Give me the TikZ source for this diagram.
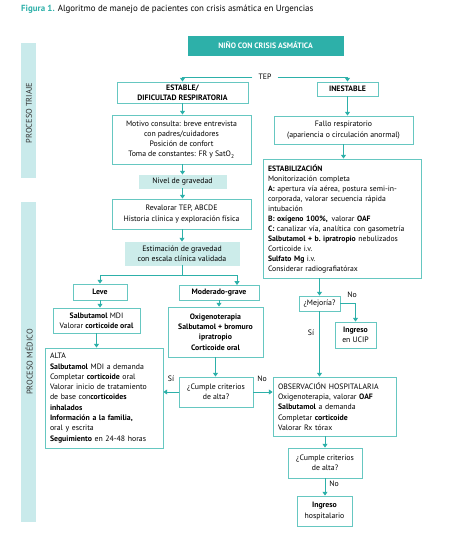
\documentclass[tikz,border=0pt]{standalone}
\usepackage{fontspec}
\setmainfont{PT Sans}
\usetikzlibrary{arrows.meta}
\definecolor{tealdark}{HTML}{2DB0A9}
\definecolor{tealline}{HTML}{66C7C1}
\definecolor{teallight}{HTML}{CCECEA}
\definecolor{sidebar}{HTML}{C9EAEB}
\newcommand{\bodysize}{\fontsize{7.8}{10.3}\selectfont}

\begin{document}
\begin{tikzpicture}[x=1pt, y=-1pt,
    box/.style={draw=tealline, line width=0.8pt, fill=white, align=center, inner sep=0pt, font=\bodysize},
    fillbox/.style={box, fill=teallight, draw=teallight},
    leftbox/.style={box, align=left, inner xsep=5pt, inner ysep=0pt},
    arr/.style={draw=tealdark, line width=0.8pt, -{Triangle[width=5pt,length=3.8pt]}},
    link/.style={draw=tealdark, line width=0.8pt},
    tag/.style={font=\bodysize, inner sep=1pt},
    side/.style={font=\fontsize{8.3}{10}\selectfont, text=black!80, rotate=90}
]
    \useasboundingbox (0,0) rectangle (474,549);

    % Title
    \node[anchor=west, inner sep=0pt, font=\fontsize{8.9}{10}\selectfont] (title) at (21,9.5)
        {\textcolor{tealdark}{\textbf{Figura 1.}} Algoritmo de manejo de pacientes con crisis asmática en Urgencias};

    % Side bars
    \fill[sidebar] (21,43) rectangle (36,178);
    \fill[sidebar] (21,202) rectangle (36,522);
    \node[side] (triaje) at (29,113) {PROCESO TRIAJE};
    \node[side] (medico) at (29,362) {PROCESO MÉDICO};

    % Start
    \node[box, fill=tealdark, draw=tealdark, text=white, font=\bodysize\bfseries,
        minimum width=155, minimum height=19] (nino) at (265.5,45.5) {NIÑO CON CRISIS ASMÁTICA};
    \node[tag, inner xsep=6pt] (tep) at (265,77) {TEP};

    % Stable branch
    \node[box, font=\bodysize\bfseries, minimum width=131, minimum height=21] (estable) at (182.5,92.5)
        {ESTABLE/\\DIFICULTAD RESPIRATORIA};
    \node[box, minimum width=139, minimum height=49] (motivo) at (181.5,139.5)
        {Motivo consulta: breve entrevista\\con padres/cuidadores\\Posición de confort\\Toma de constantes: FR y SatO\textsubscript{2}};
    \node[fillbox, minimum width=87, minimum height=13] (nivel) at (182.5,181.5) {Nivel de gravedad};
    \node[box, minimum width=139, minimum height=30] (revalorar) at (181.5,214)
        {Revalorar TEP, ABCDE\\Historia clínica y exploración física};
    \node[fillbox, minimum width=114, minimum height=23] (estim) at (182,253.5)
        {Estimación de gravedad\\con escala clínica validada};
    \coordinate (split) at (182,275);
    \coordinate (modin) at (237,285);

    % Mild and moderate
    \node[box, font=\bodysize\bfseries, minimum width=54, minimum height=16] (leve) at (100,292) {Leve};
    \node[box, font=\bodysize\bfseries, minimum width=80, minimum height=15] (moderado) at (219,292.5) {Moderado-grave};
    \node[box, minimum width=87, minimum height=25] (salb) at (96.5,320.5)
        {\textbf{Salbutamol} MDI\\Valorar \textbf{corticoide oral}};
    \node[box, font=\bodysize\bfseries, minimum width=95, minimum height=50] (oxig) at (215.5,332)
        {Oxigenoterapia\\Salbutamol + bromuro\\ipratropio\\Corticoide oral};
    \node[leftbox, text width=108, minimum height=100] (alta) at (104,398)
        {ALTA\\\textbf{Salbutamol} MDI a demanda\\Completar \textbf{corticoide} oral\\Valorar inicio de tratamiento\\de base con\textbf{corticoides}\\\textbf{inhalados}\\\textbf{Información a la familia,}\\oral y escrita\\\textbf{Seguimiento} en 24-48 horas};
    \node[box, minimum width=74, minimum height=30] (cumple1) at (216,392) {¿Cumple criterios\\de alta?};

    % Unstable branch
    \node[box, font=\bodysize\bfseries, minimum width=61, minimum height=14] (inestable) at (347.5,89) {INESTABLE};
    \node[box, minimum width=139, minimum height=28] (fallo) at (343.5,130)
        {Fallo respiratorio\\(apariencia o circulación anormal)};
    \node[leftbox, text width=148, minimum height=119, font=\fontsize{7.7}{10}\selectfont] (estab) at (342,218.5)
        {\textbf{ESTABILIZACIÓN}\\Monitorización completa\\\textbf{A:} apertura vía aérea, postura semi-in-\\corporada, valorar secuencia rápida\\intubación\\\textbf{B: oxígeno 100\%,}\enspace valorar \textbf{OAF}\\\textbf{C:} canalizar vía, analítica con gasometría\\\textbf{Salbutamol + b.\ ipratropio} nebulizados\\Corticoide i.v.\\\textbf{Sulfato Mg} i.v.\\Considerar radiografiatórax};
    \node[box, minimum width=41, minimum height=15] (mejoria) at (319.5,303.5) {¿Mejoría?};
    \node[box, minimum width=41, minimum height=26] (ucip) at (355.5,335) {\textbf{Ingreso}\\en UCIP};
    \node[leftbox, text width=113, minimum height=59] (obs) at (334.5,406.5)
        {OBSERVACIÓN HOSPITALARIA\\Oxigenoterapia, valorar \textbf{OAF}\\\textbf{Salbutamol} a demanda\\Completar \textbf{corticoide}\\Valorar Rx tórax};
    \node[box, minimum width=74, minimum height=30] (cumple2) at (325,463) {¿Cumple criterios\\de alta?};
    \node[box, minimum width=55, minimum height=30] (hosp) at (324.5,511) {\textbf{Ingreso}\\hospitalario};

    % Connectors
    \draw[arr] (tep.west) -| (estable.north);
    \draw[arr] (tep.east) -| (inestable.north);
    \draw[arr] (estable.south) -- (estable.south |- motivo.north);
    \draw[arr] (motivo.south -| nivel.north) -- (nivel.north);
    \draw[arr] (nivel.south) -- (nivel.south |- revalorar.north);
    \draw[arr] (revalorar.south -| estim.north) -- (estim.north);
    \draw[link] (estim.south) -- (split);
    \draw[arr] (split) -| (leve.north);
    \draw[arr] (split) -| (modin);
    \draw[arr] (leve.south) -- (leve.south |- salb.north);
    \draw[arr] (salb.south) -- (salb.south |- alta.north);
    \draw[arr] (moderado.south) -- (moderado.south |- oxig.north);
    \draw[arr] (oxig.south) -- (oxig.south |- cumple1.north);
    \draw[arr] (cumple1.west) -- (cumple1.west -| alta.east);
    \draw[arr] (cumple1.east) -- (cumple1.east -| obs.west);
    \draw[arr] (inestable.south) -- (inestable.south |- fallo.north);
    \draw[arr] (fallo.south) -- (fallo.south |- estab.north);
    \draw[arr] (estab.south -| mejoria.north) -- (mejoria.north);
    \draw[arr] (mejoria.east) -| (ucip.north);
    \draw[arr] (mejoria.south) -- (mejoria.south |- obs.north);
    \draw[arr] (obs.south -| cumple2.north) -- (cumple2.north);
    \draw[arr] (cumple2.south) -- (cumple2.south |- hosp.north);

    % Branch labels
    \node[tag] (si1) at (171,379) {Sí};
    \node[tag] (no1) at (262,379) {No};
    \node[tag] (no2) at (352,295) {No};
    \node[tag] (si2) at (311,333) {Sí};
    \node[tag] (no3) at (334,484) {No};
\end{tikzpicture}
\end{document}
